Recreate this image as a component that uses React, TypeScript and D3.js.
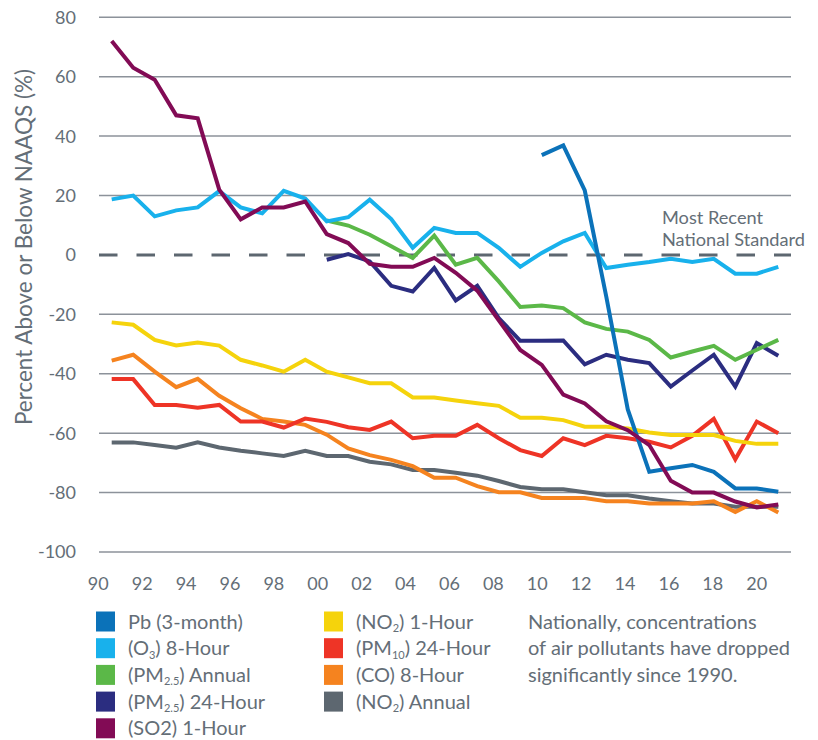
import React, { useEffect, useRef } from "react";
import * as d3 from "d3";

// years on the x axis (one point per year)
const years = [
  1990, 1991, 1992, 1993, 1994, 1995, 1996, 1997, 1998, 1999,
  2000, 2001, 2002, 2003, 2004, 2005, 2006, 2007, 2008, 2009,
  2010, 2011, 2012, 2013, 2014, 2015, 2016, 2017, 2018, 2019,
  2020, 2021,
];

const xTickLabels = ["90", "92", "94", "96", "98", "00", "02", "04", "06", "08", "10", "12", "14", "16", "18", "20"];
const yTicks = [80, 60, 40, 20, 0, -20, -40, -60, -80, -100];

const N = null;
const pb = [
  N, N, N, N, N, N, N, N, N, N,
  N, N, N, N, N, N, N, N, N, N,
  33.6, 36.9, 21.7, -14, -52, -73, -71.8, -70.7, -73, -78.6,
  -78.6, -79.7,
];
const o3 = [
  18.7, 20, 13, 15, 16, 21.5, 16, 14, 21.6, 19,
  11.3, 12.7, 18.6, 12.1, 2.4, 9.1, 7.4, 7.4, 2.4, -4,
  0.7, 4.6, 7.4, -4.4, -3.3, -2.4, -1.3, -2.4, -1.3, -6.3,
  -6.3, -4,
];
const pm25Annual = [
  N, N, N, N, N, N, N, N, N, N,
  11.6, 9.9, 6.8, 2.9, -1, 6.5, -3.3, -1, -8.9, -17.5,
  -17, -17.9, -22.7, -24.9, -25.8, -28.6, -34.5, -32.5, -30.6, -35.3,
  -31.9, -28.6,
];
const pm25Day = [
  N, N, N, N, N, N, N, N, N, N,
  -1.6, 0.3, -2.2, -10.4, -12.3, -4.4, -15.3, -10.4, -21.3, -28.9,
  -28.9, -28.8, -36.8, -33.6, -35.3, -36.4, -44.3, -38.9, -33.6, -44.3,
  -29.7, -33.9,
];
const so2 = [
  72, 63, 59, 47, 46, 22, 12, 16, 16, 18,
  7, 4, -3, -4, -4, -1, -6, -12, -22, -32,
  -37, -47, -50, -56, -59, -64, -76, -80, -80, -83,
  -85, -84,
];
const no2Hour = [
  -22.7, -23.5, -28.6, -30.5, -29.5, -30.5, -35.3, -37.2, -39.3, -35.3,
  -39.3, -41.2, -43.2, -43.2, -48, -48, -49, -49.9, -50.8, -54.8,
  -54.8, -55.6, -57.8, -57.8, -58.4, -59.8, -60.6, -60.6, -60.6, -62.6,
  -63.6, -63.6,
];
const pm10 = [
  -41.8, -41.8, -50.5, -50.5, -51.4, -50.5, -56.1, -56.1, -58.1, -55.1,
  -56.2, -58, -58.9, -56.1, -61.7, -60.9, -60.9, -57.2, -61.7, -65.7,
  -67.7, -61.7, -64, -60.9, -61.7, -62.9, -64.8, -60.9, -55.2, -68.8,
  -56.1, -60,
];
const co = [
  -35.6, -33.6, -39.3, -44.5, -41.7, -47.4, -51.6, -55.2, -56.1, -57.2,
  -60.5, -65.1, -67.4, -69, -71.1, -75, -75, -77.8, -79.9, -79.9,
  -81.8, -81.8, -81.8, -82.9, -82.9, -83.7, -83.7, -83.7, -82.9, -86.5,
  -82.9, -86.7,
];
const no2Annual = [
  -63.1, -63.1, -64, -64.9, -63.1, -64.8, -65.9, -66.8, -67.7, -65.9,
  -67.7, -67.7, -69.6, -70.5, -72.4, -72.4, -73.3, -74.3, -76.1, -78.1,
  -78.9, -78.9, -79.9, -80.9, -80.9, -82, -82.9, -83.7, -83.7, -84.8,
  -84.8, -84.8,
];

// legend labels: [text, subscript, text after]
const legendLabels = [
  ["Pb (3-month)", "", ""],
  ["(O", "3", ") 8-Hour"],
  ["(PM", "2.5", ") Annual"],
  ["(PM", "2.5", ") 24-Hour"],
  ["(SO2) 1-Hour", "", ""],
  ["(NO", "2", ") 1-Hour"],
  ["(PM", "10", ") 24-Hour"],
  ["(CO) 8-Hour", "", ""],
  ["(NO", "2", ") Annual"],
];
const colors = ["#0b72b9", "#18b1ec", "#5bb848", "#2b2d80", "#820b55", "#f5d30c", "#ee3426", "#f5831f", "#5d6770"];
const seriesValues = [pb, o3, pm25Annual, pm25Day, so2, no2Hour, pm10, co, no2Annual];
// drawing order (back to front)
const drawOrder = [8, 7, 6, 5, 3, 2, 1, 0, 4];

const noteLines = ["Nationally, concentrations", "of air pollutants have dropped", "significantly since 1990."];

const FONT = "Lato, 'Open Sans', sans-serif";
const TEXT = "#646e77";

const App = () => {
  const ref = useRef<SVGSVGElement>(null);

  useEffect(() => {
    const width = 818;
    const height = 740;
    const svg = d3.select(ref.current);
    svg.selectAll("*").remove();
    svg.attr("width", width).attr("height", height);

    const x = d3.scaleLinear().domain([1990, 2021]).range([111.7, 778.3]);
    const xLabel = d3.scalePoint().domain(xTickLabels).range([98.3, 756.7]);
    const y = d3.scaleLinear().domain([-100, 80]).range([552, 17.3]);
    const gridLeft = 99;
    const gridRight = 791;

    // grid lines
    svg
      .append("g")
      .selectAll("line")
      .data(yTicks.filter((d) => d !== 0))
      .join("line")
      .attr("x1", gridLeft)
      .attr("x2", gridRight)
      .attr("y1", (d) => y(d))
      .attr("y2", (d) => y(d))
      .attr("stroke", "#8c929a")
      .attr("stroke-width", 1.5);

    // standard line at 0
    svg
      .append("line")
      .attr("x1", gridLeft)
      .attr("x2", gridRight)
      .attr("y1", y(0))
      .attr("y2", y(0))
      .attr("stroke", "#5d6770")
      .attr("stroke-width", 3)
      .attr("stroke-dasharray", "18.5 19");

    // y tick labels
    svg
      .append("g")
      .selectAll("text")
      .data(yTicks)
      .join("text")
      .attr("x", 76)
      .attr("y", (d) => y(d))
      .attr("dy", "0.36em")
      .attr("text-anchor", "end")
      .attr("font-family", FONT)
      .attr("font-size", 18)
      .attr("fill", TEXT)
      .text((d) => d);

    // x tick labels
    svg
      .append("g")
      .selectAll("text")
      .data(xTickLabels)
      .join("text")
      .attr("x", (d) => xLabel(d))
      .attr("y", 590)
      .attr("text-anchor", "middle")
      .attr("font-family", FONT)
      .attr("font-size", 18)
      .attr("fill", TEXT)
      .text((d) => d);

    // y axis title
    svg
      .append("text")
      .attr("transform", "translate(32,247) rotate(-90)")
      .attr("text-anchor", "middle")
      .attr("font-family", FONT)
      .attr("font-size", 22.5)
      .attr("fill", TEXT)
      .text("Percent Above or Below NAAQS (%)");

    // annotation
    svg
      .append("text")
      .attr("font-family", FONT)
      .attr("font-size", 18.2)
      .attr("fill", TEXT)
      .selectAll("tspan")
      .data(["Most Recent", "National Standard"])
      .join("tspan")
      .attr("x", 662)
      .attr("y", (d, i) => 224 + i * 22)
      .text((d) => d);

    // lines
    const line = d3
      .line<number | null>()
      .defined((d) => d !== null)
      .x((d, i) => x(years[i]))
      .y((d) => y(d as number));

    drawOrder.forEach((s) => {
      svg
        .append("path")
        .datum(seriesValues[s])
        .attr("fill", "none")
        .attr("stroke", colors[s])
        .attr("stroke-width", 4)
        .attr("stroke-linejoin", "miter")
        .attr("d", line);
    });

    // legend
    const rowY = [621.5, 648.2, 674.9, 701.6, 728.3];
    const legend = svg.append("g").attr("font-family", FONT).attr("fill", TEXT);
    legendLabels.forEach((lab, i) => {
      const col = i < 5 ? 0 : 1;
      const row = i < 5 ? i : i - 5;
      const sx = col === 0 ? 96 : 324;
      const cy = rowY[row];
      legend
        .append("rect")
        .attr("x", sx)
        .attr("y", cy - 10)
        .attr("width", 19)
        .attr("height", 20)
        .attr("fill", colors[i]);
      const t = legend
        .append("text")
        .attr("x", sx + 32)
        .attr("y", cy + 7)
        .attr("font-size", 20);
      t.append("tspan").text(lab[0]);
      if (lab[1]) {
        t.append("tspan").attr("font-size", 11).attr("dy", 3.5).text(lab[1]);
        t.append("tspan").attr("dy", -3.5).text(lab[2]);
      }
    });

    // note text
    legend
      .append("text")
      .attr("font-size", 20)
      .selectAll("tspan")
      .data(noteLines)
      .join("tspan")
      .attr("x", 528)
      .attr("y", (d, i) => rowY[i] + 7)
      .text((d) => d);
  }, []);

  return <svg ref={ref} style={{ position: "absolute", left: 0, top: 0 }} />;
};

export default App;
